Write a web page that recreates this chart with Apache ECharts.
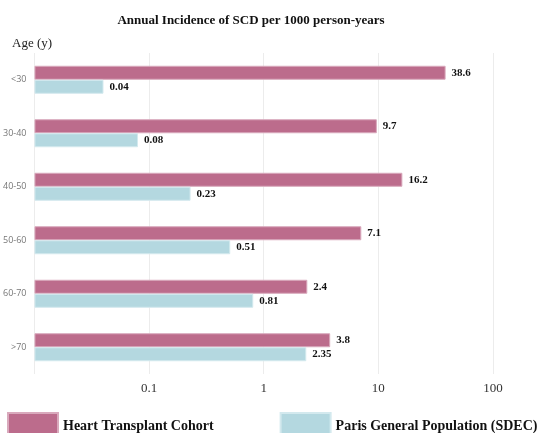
<!DOCTYPE html>
<html><head><meta charset="utf-8">
<script src="https://cdn.jsdelivr.net/npm/echarts@6/dist/echarts.min.js"></script>
<style>html,body{margin:0;padding:0;background:#fff}#c{width:547px;height:433px}</style>
</head><body><div id="c"></div>
<script>
const ageGroups = ['<30', '30-40', '40-50', '50-60', '60-70', '>70'];
const heartTransplant = [38.6, 9.7, 16.2, 7.1, 2.4, 3.8];
const parisGeneral = [0.04, 0.08, 0.23, 0.51, 0.81, 2.35];
const seriesNames = ['Heart Transplant Cohort', 'Paris General Population (SDEC)'];
const xTicks = [0.1, 1, 10, 100];

const serif = '"Liberation Serif", "DejaVu Serif", serif';
const labelStyle = {show: true, position: 'right', distance: 6, fontFamily: serif, fontWeight: 'bold', fontSize: 11, color: '#111'};
const chart = echarts.init(document.getElementById('c'));
chart.setOption({
  animation: false,
  title: {text: 'Annual Incidence of SCD per 1000 person-years', left: 246, textAlign: 'center', top: 9,
    textStyle: {fontFamily: serif, fontWeight: 'bold', fontSize: 13, color: '#111'}},
  graphic: [{type: 'text', left: 12, top: 37, style: {text: 'Age (y)', fontFamily: serif, fontSize: 13, fill: '#222'}}],
  legend: {top: 412, left: 7, width: 545, itemWidth: 50, itemHeight: 26, itemGap: 66, icon: 'rect',
    padding: 0,
    textStyle: {fontFamily: serif, fontWeight: 'bold', fontSize: 14, color: '#111'}},
  grid: {left: 33, right: 54, top: 53, bottom: 59, containLabel: false},
  xAxis: {type: 'log', logBase: 10, min: 0.01, max: 100, startValue: 0.01,
    axisLine: {show: false}, axisTick: {show: false},
    splitLine: {show: true, lineStyle: {color: '#ececec', width: 1}},
    axisLabel: {margin: 8, fontFamily: serif, fontSize: 13, color: '#333',
      formatter: v => { const r = Number(v.toPrecision(3)); return xTicks.includes(r) ? String(r) : ''; }}},
  yAxis: {type: 'category', data: ageGroups, inverse: true,
    axisLine: {show: false}, axisTick: {show: false},
    axisLabel: {margin: 8, fontFamily: '"Open Sans", sans-serif', fontSize: 9, color: '#777'}},
  series: [
    {name: seriesNames[0], type: 'bar', data: heartTransplant, barWidth: 14, barGap: '0%',
      itemStyle: {color: '#bc6c8c', borderColor: '#d9a9bc', borderWidth: 1}, label: labelStyle},
    {name: seriesNames[1], type: 'bar', data: parisGeneral, barWidth: 14,
      itemStyle: {color: '#b4d8e0', borderColor: '#d3e9ee', borderWidth: 1}, label: labelStyle}
  ]
});
</script></body></html>
